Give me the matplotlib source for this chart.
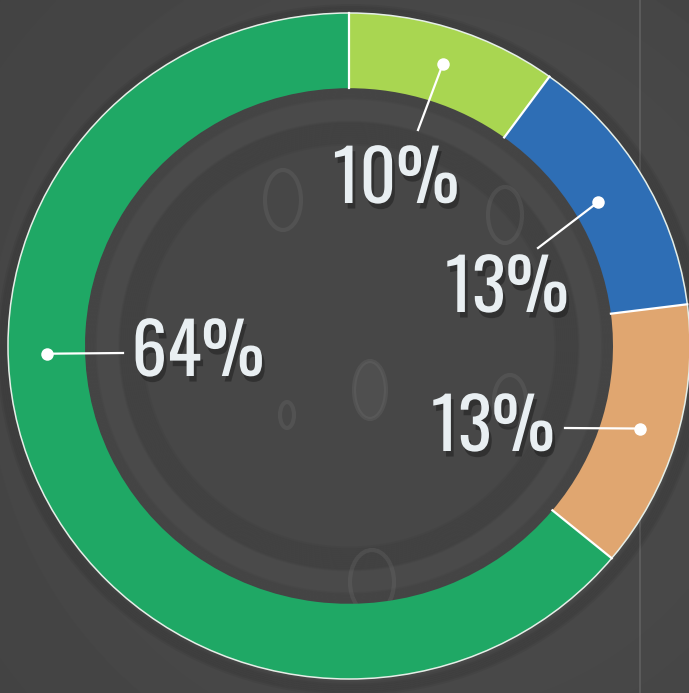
import numpy as np
import matplotlib.pyplot as plt
import matplotlib.patheffects as pe
from matplotlib.patches import Circle, Ellipse

# slice shares, clockwise from 12 o'clock
shares = [10, 13, 13, 64]
labels = ['10%', '13%', '13%', '64%']
colors = ['#a9d651', '#2e6eb5', '#e0a670', '#1fa865']

W, H = 689, 693
K = 341 / 333.0            # the ring is drawn slightly wider than tall


def P(x, y):
    """pixel position (y from top) -> data coords"""
    return x, (H - y) * K


CX, CY = P(349, 346)
R_OUT, RING_W = 341, 77
R_IN = R_OUT - RING_W
R_DISK = 229

fig = plt.figure(figsize=(W / 100, H / 100), dpi=100)
ax = fig.add_axes([0, 0, 1, 1])

# background: soft vignette
yy, xx = np.mgrid[0:H, 0:W]
d = np.hypot(xx - 420, (yy - 330)) / 520.0
bg = 0.315 - 0.05 * np.clip(d, 0, 1.3)
ax.imshow(bg, cmap='gray', vmin=0, vmax=1, extent=(0, W, 0, H * K),
          origin='lower', zorder=0, interpolation='bilinear')

# faint decorative lines in the backdrop
for x, y0, y1 in [(287, 145, 610), (372, 85, 615), (640, 0, 693)]:
    ax.plot([x, x], [P(x, y0)[1], P(x, y1)[1]], color='#9a9a9a', lw=1.2,
            alpha=0.3, zorder=1)

# inner bowl
ax.add_patch(Circle((CX, CY), R_IN, color='#4a4a4a', zorder=2))
for i in range(8):
    ax.add_patch(Circle((CX, CY), R_IN - i * 1.5, fill=False, edgecolor='#2a2a2a',
                        lw=2, alpha=0.07, zorder=2))
ax.add_patch(Circle((CX, CY), R_DISK, color='#474747', zorder=2))
for i in range(12):
    ax.add_patch(Circle((CX, CY), R_DISK - i * 2, fill=False,
                        edgecolor='#2c2c2c', lw=2.5, alpha=0.09, zorder=2))

for (ex, ey, ew, eh, filled) in [(283, 200, 36, 60, False), (505, 215, 34, 56, False),
                                 (370, 390, 32, 58, True), (287, 415, 14, 26, False),
                                 (372, 582, 44, 64, False), (510, 400, 32, 50, False)]:
    ax.add_patch(Ellipse(P(ex, ey), ew, eh * K, fill=filled, facecolor='#6e6e6e',
                         edgecolor='#7a7a7a', lw=3, alpha=0.22, zorder=3))

# soft shadow behind the ring
for i in range(6):
    ax.add_patch(Circle((CX + 2, CY - 4), R_OUT + 1 + i * 2, fill=False,
                        edgecolor='black', lw=3, alpha=0.05, zorder=3))

wedges, _ = ax.pie(shares, colors=colors, startangle=90, counterclock=False,
                   center=(CX, CY), radius=R_OUT,
                   wedgeprops=dict(width=RING_W, edgecolor='none', linewidth=0))
for w in wedges:
    w.set_zorder(4)

# thin light outer rim and white separators between slices
ax.add_patch(Circle((CX, CY), R_OUT, fill=False, edgecolor='#e6efe8', lw=1.1, zorder=5))
cum = np.cumsum([0] + shares[:-1])
for c in cum:
    a = np.deg2rad(c * 3.6)
    ax.plot([CX + R_IN * np.sin(a), CX + R_OUT * np.sin(a)],
            [CY + R_IN * np.cos(a), CY + R_OUT * np.cos(a)],
            color='white', lw=1.6, zorder=5)

# label layout: anchor angle (deg clockwise from top), leader end, text centre
mid = [(c + s / 2) * 3.6 for c, s in zip(cum, shares)]
anchor_ang = mid[:3] + [268.5]
anchor_r = [304, 289, 303, 302]
line_end = [P(418, 130), P(538, 248), P(565, 428), P(123, 353)]
text_pos = [P(396, 181), P(507, 290), P(493, 429), P(198, 354)]

shadow = [pe.withSimplePatchShadow(offset=(2, -4), shadow_rgbFace='black', alpha=0.3)]
for lab, ang, r, (lx, ly), (tx, ty) in zip(labels, anchor_ang, anchor_r, line_end, text_pos):
    a = np.deg2rad(ang)
    px, py = CX + r * np.sin(a), CY + r * np.cos(a)
    ax.plot([px, lx], [py, ly], color='white', lw=1.6, zorder=6)
    ax.plot(px, py, 'o', color='white', ms=9, mec='none', zorder=7)
    ax.text(tx, ty, lab, ha='center', va='center', fontsize=51,
            family=['Oswald', 'Pathway Gothic One', 'DejaVu Sans'],
            color='#e9eff2', zorder=8, path_effects=shadow)

ax.set_xlim(0, W)
ax.set_ylim(0, H * K)
ax.set_aspect('auto')
ax.axis('off')
fig.savefig('out.png', dpi=100)
